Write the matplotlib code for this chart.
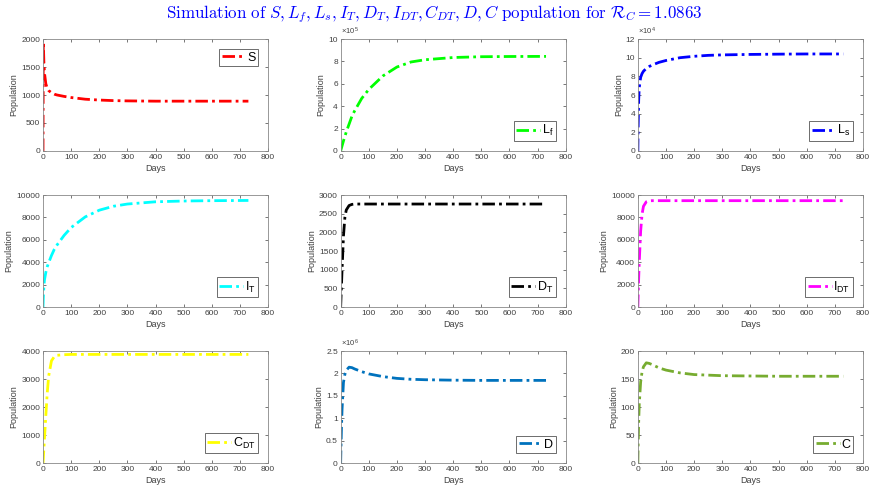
import matplotlib
matplotlib.use('Agg')
import matplotlib.pyplot as plt
from matplotlib.ticker import FuncFormatter

plt.rcParams['font.family'] = ['Liberation Sans', 'DejaVu Sans']
plt.rcParams['mathtext.fontset'] = 'cm'

# sample days
days = [0, 1, 3, 5, 10, 15, 20, 30, 40, 50, 75, 100, 150, 200, 250, 300, 400, 500, 600, 730]

S = [0, 1950, 1600, 1400, 1200, 1120, 1080, 1040, 1015, 1000, 975, 955, 925, 910, 900, 895, 890, 890, 890, 890]
Lf = [0, 0.09e5, 0.27e5, 0.45e5, 0.9e5, 1.3e5, 1.7e5, 2.4e5, 3.1e5, 3.6e5, 4.7e5, 5.5e5, 6.7e5,
      7.5e5, 7.95e5, 8.15e5, 8.35e5, 8.42e5, 8.44e5, 8.45e5]
Ls = [0, 2.5e4, 5.5e4, 6.8e4, 7.9e4, 8.3e4, 8.55e4, 8.85e4, 9.05e4, 9.2e4, 9.5e4, 9.7e4, 10.0e4,
      10.15e4, 10.25e4, 10.3e4, 10.35e4, 10.38e4, 10.4e4, 10.4e4]
IT = [0, 800, 1800, 2400, 3100, 3600, 3950, 4600, 5150, 5550, 6400, 7100, 8050, 8650, 9000, 9200,
      9400, 9470, 9500, 9520]
DT = [0, 200, 600, 1000, 1900, 2400, 2600, 2720, 2750, 2760, 2760, 2760, 2760, 2760, 2760, 2760,
      2760, 2760, 2760, 2760]
IDT = [0, 900, 2600, 4000, 6800, 8300, 9000, 9400, 9480, 9500, 9500, 9500, 9500, 9500, 9500, 9500,
       9500, 9500, 9500, 9500]
CDT = [0, 150, 500, 850, 1700, 2500, 3100, 3650, 3800, 3850, 3870, 3880, 3880, 3880, 3880, 3880,
       3880, 3880, 3880, 3880]
D = [0, 0.3e6, 0.8e6, 1.2e6, 1.8e6, 1.98e6, 2.07e6, 2.14e6, 2.13e6, 2.1e6, 2.04e6, 1.99e6, 1.93e6,
     1.89e6, 1.87e6, 1.86e6, 1.85e6, 1.845e6, 1.845e6, 1.845e6]
C = [0, 30, 75, 105, 145, 163, 172, 179, 178, 176, 170, 166, 161, 158, 157, 156, 155.5, 155, 155, 155]

series = [S, Lf, Ls, IT, DT, IDT, CDT, D, C]
labels = ['S', r'$\mathregular{L_f}$', r'$\mathregular{L_s}$', r'$\mathregular{I_T}$',
          r'$\mathregular{D_T}$', r'$\mathregular{I_{DT}}$', r'$\mathregular{C_{DT}}$', 'D', 'C']
colors = ['#ff0000', '#00ff00', '#0000ff', '#00ffff', '#000000', '#ff00ff', '#ffff00',
          '#0072bd', '#77ac30']
ymax = [2000, 10e5, 12e4, 10000, 3000, 10000, 4000, 2.5e6, 200]
ystep = [500, 2e5, 2e4, 2000, 500, 2000, 1000, 0.5e6, 50]
yexp = [0, 5, 4, 0, 0, 0, 0, 6, 0]
legloc = ['upper right'] + ['lower right'] * 8

fig = plt.figure(figsize=(8.69, 4.91), dpi=100)
lefts = [0.0495, 0.392, 0.734]
bottoms = [0.6925, 0.3747, 0.057]
grey = '#404040'

for i in range(9):
    r, c = divmod(i, 3)
    ax = fig.add_axes([lefts[c], bottoms[r], 0.259, 0.228])
    ax.plot(days, series[i], color=colors[i], lw=2, linestyle=(0, (4.5, 1.5, 1, 1.5)), label=labels[i])
    ax.set_xlim(0, 800)
    ax.set_ylim(0, ymax[i])
    ax.set_xticks(range(0, 801, 100))
    n = int(round(ymax[i] / ystep[i]))
    ax.set_yticks([k * ystep[i] for k in range(n + 1)])
    scale = 10 ** yexp[i]
    ax.yaxis.set_major_formatter(FuncFormatter(lambda v, p, s=scale: '%g' % (v / s)))
    if yexp[i]:
        ax.text(0.0, 1.015, r'$\mathregular{\times10^{%d}}$' % yexp[i], transform=ax.transAxes,
                fontsize=5.5, color=grey, ha='left', va='bottom')
    ax.tick_params(direction='in', top=True, right=True, labelsize=6, colors=grey,
                   length=2.5, width=0.5, pad=2)
    for sp in ax.spines.values():
        sp.set_color('#888888')
        sp.set_linewidth(0.6)
    ax.set_xlabel('Days', fontsize=6.5, color=grey, labelpad=2)
    ax.set_ylabel('Population', fontsize=6.5, color=grey, labelpad=2)
    leg = ax.legend(loc=legloc[i], fontsize=9, fancybox=False, framealpha=1,
                    handlelength=1.9, handletextpad=0.15, borderpad=0.2,
                    borderaxespad=0.8)
    leg.get_frame().set_edgecolor('#555555')
    leg.get_frame().set_linewidth(0.6)

fig.text(0.5, 0.972,
         r'$\mathrm{Simulation\ of\ }S, L_f, L_s, I_T, D_T, I_{DT}, C_{DT}, D, C'
         r'\mathrm{\ population\ for\ }\mathcal{R}_C = 1.0863$',
         ha='center', va='center', fontsize=12.2, color='#0000ff')

fig.savefig('out.png', dpi=100)
